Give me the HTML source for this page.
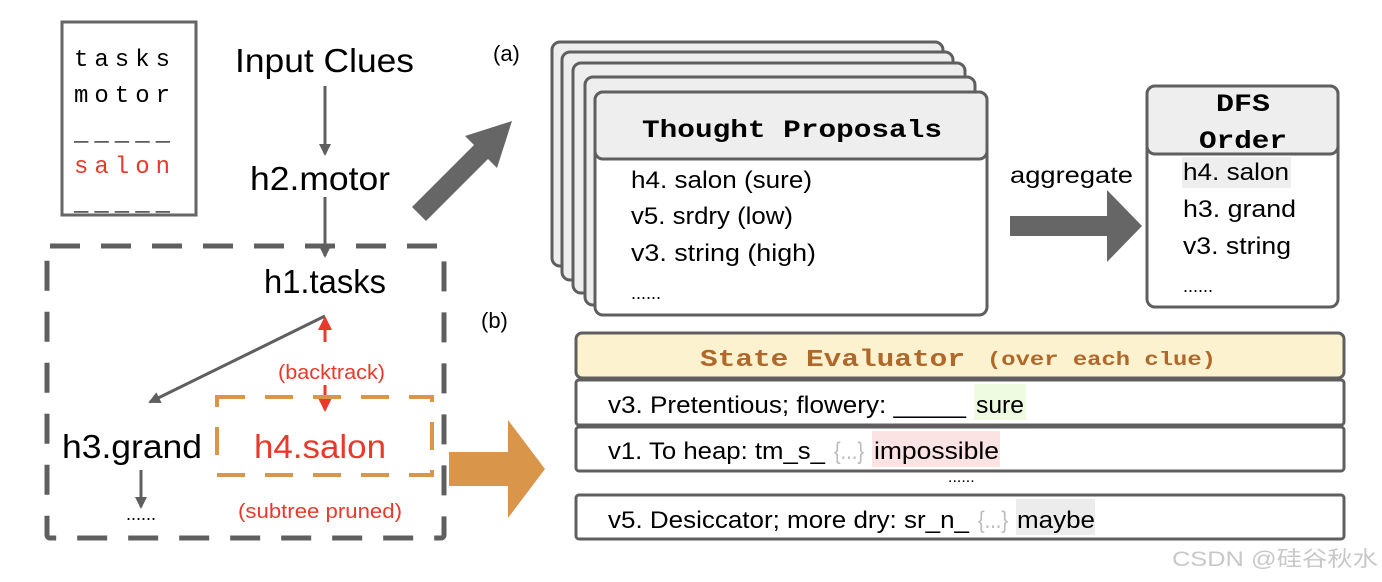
<!DOCTYPE html>
<html><head><meta charset="utf-8"><style>body{margin:0;background:#fff}svg{display:block}</style></head><body>
<svg width="1382" height="582" viewBox="0 0 1382 582" xmlns="http://www.w3.org/2000/svg" font-family="Liberation Sans, DejaVu Sans, sans-serif">
<defs>
<marker id="ag" markerWidth="12" markerHeight="12" refX="10" refY="6" orient="auto" markerUnits="userSpaceOnUse"><path d="M0,0 L12,6 L0,12 z" fill="#5f5f5f"/></marker>
<marker id="ar" markerWidth="14" markerHeight="14" refX="12" refY="7" orient="auto" markerUnits="userSpaceOnUse"><path d="M0,0 L14,7 L0,14 z" fill="#e8392b"/></marker>
</defs>
<!-- left clue box -->
<rect x="62" y="22" width="134" height="193" fill="none" stroke="#666" stroke-width="3"/>
<g font-family="Liberation Mono, monospace" font-size="24">
<text x="74" y="66" letter-spacing="6">tasks</text>
<text x="74" y="102" letter-spacing="6">motor</text>
<text x="74" y="140" letter-spacing="6">_____</text>
<text x="74" y="173" letter-spacing="6" fill="#e8392b">salon</text>
<text x="74" y="210" letter-spacing="6">_____</text>
</g>
<text x="235" y="72" font-size="33" textLength="179" lengthAdjust="spacingAndGlyphs">Input Clues</text>
<line x1="325" y1="86" x2="325" y2="154" stroke="#5f5f5f" stroke-width="3" marker-end="url(#ag)"/>
<text x="250" y="190" font-size="33" textLength="140" lengthAdjust="spacingAndGlyphs">h2.motor</text>
<line x1="325" y1="197" x2="325" y2="256" stroke="#5f5f5f" stroke-width="3" marker-end="url(#ag)"/>
<rect x="47" y="246" width="397" height="292" fill="none" stroke="#5f5f5f" stroke-width="5" stroke-dasharray="30,21" rx="3"/>
<text x="264" y="293" font-size="33" textLength="122" lengthAdjust="spacingAndGlyphs">h1.tasks</text>
<line x1="325" y1="316" x2="150" y2="402" stroke="#5f5f5f" stroke-width="3" marker-end="url(#ag)"/>
<line x1="325" y1="342" x2="325" y2="318" stroke="#e8392b" stroke-width="3" marker-end="url(#ar)"/>
<line x1="325" y1="385" x2="325" y2="410" stroke="#e8392b" stroke-width="3" marker-end="url(#ar)"/>
<text x="278" y="379" font-size="20" fill="#e8392b" textLength="107" lengthAdjust="spacingAndGlyphs">(backtrack)</text>
<text x="62" y="458" font-size="33" textLength="140" lengthAdjust="spacingAndGlyphs">h3.grand</text>
<line x1="141" y1="470" x2="141" y2="507" stroke="#5f5f5f" stroke-width="3" marker-end="url(#ag)"/>
<text x="141" y="520" font-size="18" text-anchor="middle">......</text>
<rect x="217" y="397" width="215" height="78" fill="none" stroke="#d9964a" stroke-width="4" stroke-dasharray="28,20"/>
<text x="254" y="458" font-size="33" fill="#e8392b" textLength="132" lengthAdjust="spacingAndGlyphs">h4.salon</text>
<text x="238" y="518" font-size="20" fill="#e8392b" textLength="164" lengthAdjust="spacingAndGlyphs">(subtree pruned)</text>
<!-- big arrows -->
<polygon points="412,207 474,145 465,136 512,121 497,168 488,159 426,221" fill="#666"/>
<polygon points="449,452 508,452 508,420 545,469 508,518 508,486 449,486" fill="#d9964a"/>
<text x="493" y="61" font-size="22">(a)</text>
<text x="481" y="328" font-size="22">(b)</text>
<!-- stacked cards -->
<g stroke="#5f5f5f" stroke-width="3">
<rect x="552" y="42" width="391" height="224" rx="8" fill="#eee"/>
<rect x="562" y="52" width="391" height="228" rx="8" fill="#eee"/>
<rect x="573" y="63" width="392" height="230" rx="8" fill="#eee"/>
<rect x="585" y="77" width="390" height="228" rx="8" fill="#eee"/>
<rect x="595" y="92" width="392" height="223" rx="8" fill="#fff"/>
<rect x="595" y="92" width="392" height="67" rx="8" fill="#eee"/>
</g>
<text x="642" y="137" font-family="Liberation Mono, monospace" font-weight="bold" font-size="25" textLength="300" lengthAdjust="spacingAndGlyphs">Thought Proposals</text>
<g font-size="24">
<text x="631" y="188" textLength="181" lengthAdjust="spacingAndGlyphs">h4. salon (sure)</text>
<text x="631" y="224" textLength="162" lengthAdjust="spacingAndGlyphs">v5. srdry (low)</text>
<text x="631" y="261" textLength="185" lengthAdjust="spacingAndGlyphs">v3. string (high)</text>
<text x="631" y="299" font-size="18">......</text>
<text x="1010" y="183" font-size="23" textLength="123" lengthAdjust="spacingAndGlyphs">aggregate</text>
</g>
<polygon points="1010,216 1107,216 1107,190 1142,226 1107,262 1107,236 1010,236" fill="#666"/>
<!-- DFS -->
<rect x="1147" y="86" width="191" height="221" rx="8" fill="#fff" stroke="#5f5f5f" stroke-width="3"/>
<rect x="1147" y="86" width="191" height="68" rx="8" fill="#eee" stroke="#5f5f5f" stroke-width="3"/>
<g font-family="Liberation Mono, monospace" font-weight="bold" font-size="25"><text x="1216" y="111" textLength="54" lengthAdjust="spacingAndGlyphs">DFS</text><text x="1199" y="148" textLength="88" lengthAdjust="spacingAndGlyphs">Order</text></g>
<rect x="1182" y="157" width="109" height="31" fill="#eee"/>
<g font-size="24">
<text x="1183" y="180" textLength="106" lengthAdjust="spacingAndGlyphs">h4. salon</text>
<text x="1183" y="217" textLength="113" lengthAdjust="spacingAndGlyphs">h3. grand</text>
<text x="1183" y="254" textLength="108" lengthAdjust="spacingAndGlyphs">v3. string</text>
<text x="1183" y="292" font-size="18">......</text>
</g>
<!-- state evaluator -->
<rect x="576" y="333" width="768" height="45" rx="6" fill="#fdf2cf" stroke="#5f5f5f" stroke-width="3"/>
<g font-family="Liberation Mono, monospace" font-weight="bold" fill="#b0682a">
<text x="700" y="366" font-size="24" textLength="265" lengthAdjust="spacingAndGlyphs">State Evaluator</text>
<text x="987" y="365" font-size="19" textLength="229" lengthAdjust="spacingAndGlyphs">(over each clue)</text>
</g>
<g stroke="#5f5f5f" stroke-width="3" fill="#fff">
<rect x="576" y="380" width="768" height="45" rx="3"/>
<rect x="576" y="427" width="768" height="44" rx="3"/>
<rect x="576" y="495" width="768" height="44" rx="3"/>
</g>
<rect x="974" y="384" width="52" height="36" fill="#effbe0"/>
<rect x="872" y="431" width="128" height="36" fill="#fbe3e3"/>
<rect x="1016" y="499" width="79" height="36" fill="#ececec"/>
<g font-size="24">
<text x="608" y="413" textLength="358" lengthAdjust="spacingAndGlyphs">v3. Pretentious; flowery: _____</text>
<text x="976" y="413" textLength="48" lengthAdjust="spacingAndGlyphs">sure</text>
<text x="608" y="459" textLength="217" lengthAdjust="spacingAndGlyphs">v1. To heap: tm_s_</text>
<text x="834" y="459" fill="#bbb" textLength="30" lengthAdjust="spacingAndGlyphs">{...}</text>
<text x="874" y="459" textLength="125" lengthAdjust="spacingAndGlyphs">impossible</text>
<text x="608" y="528" textLength="361" lengthAdjust="spacingAndGlyphs">v5. Desiccator; more dry: sr_n_</text>
<text x="978" y="528" fill="#bbb" textLength="30" lengthAdjust="spacingAndGlyphs">{...}</text>
<text x="1017" y="528" textLength="78" lengthAdjust="spacingAndGlyphs">maybe</text>
<text x="948" y="482" font-size="16">......</text>
</g>
<text x="1172" y="566" font-size="21" fill="#c8c8c8" font-family="Liberation Sans, Noto Sans CJK SC, sans-serif" textLength="206" lengthAdjust="spacingAndGlyphs">CSDN @硅谷秋水</text>
</svg>
</body></html>
